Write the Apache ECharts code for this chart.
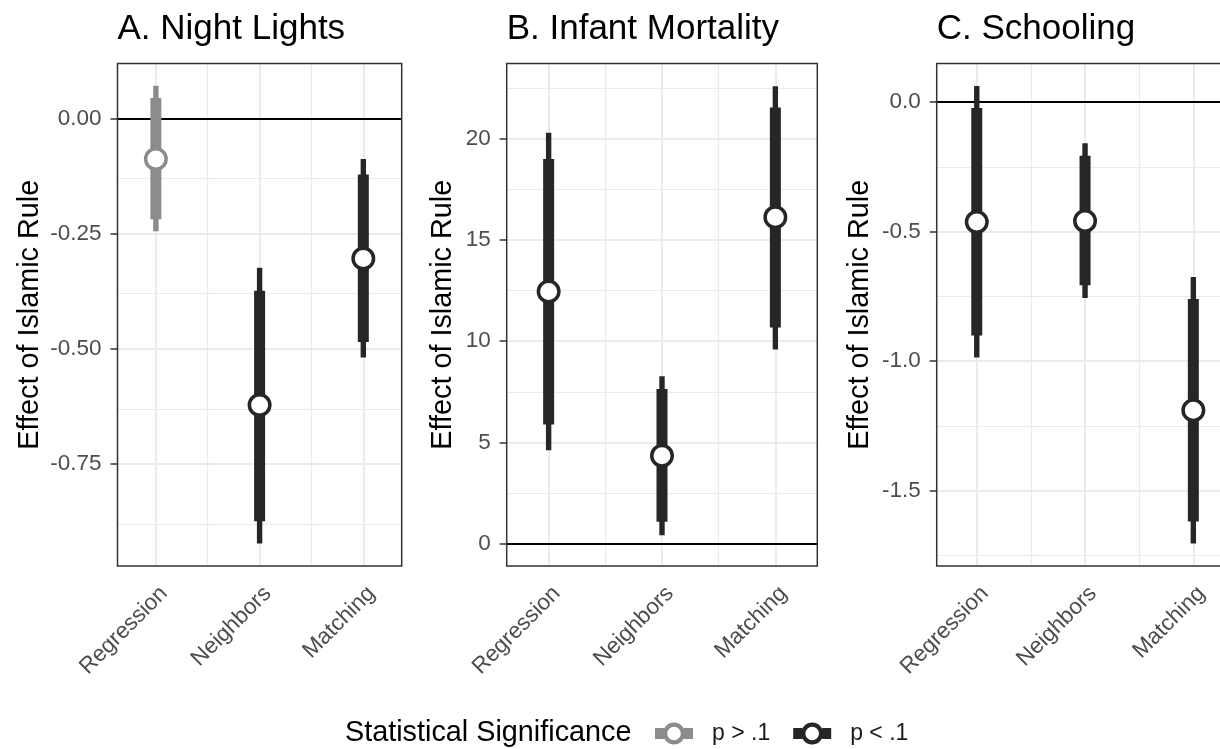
<!DOCTYPE html>
<html>
<head>
<meta charset="utf-8">
<title>Effect of Islamic Rule</title>
<script src="https://cdn.jsdelivr.net/npm/echarts@6/dist/echarts.min.js"></script>
<style>
  html, body { margin: 0; padding: 0; background: #fff; }
  #chart { width: 1220px; height: 749px; }
</style>
</head>
<body>
<div id="chart"></div>
<script>
var methods = ['Regression', 'Neighbors', 'Matching'];
var panelTitles = ['A. Night Lights', 'B. Infant Mortality', 'C. Schooling'];
var sigNames = ['p > .1', 'p < .1'];

// estimate, 90% interval (thick bar), 95% interval (thin bar), p < .1 ?
var lightsEst = [-0.088, -0.622, -0.304];
var lightsLo90 = [-0.219, -0.874, -0.485];
var lightsHi90 = [0.044, -0.374, -0.122];
var lightsLo95 = [-0.245, -0.922, -0.519];
var lightsHi95 = [0.071, -0.324, -0.088];
var lightsSig = [0, 1, 1];

var mortalityEst = [12.45, 4.34, 16.12];
var mortalityLo90 = [5.88, 1.08, 10.68];
var mortalityHi90 = [19.0, 7.64, 21.54];
var mortalityLo95 = [4.61, 0.41, 9.59];
var mortalityHi95 = [20.3, 8.26, 22.6];
var mortalitySig = [1, 1, 1];

var schoolingEst = [-0.463, -0.459, -1.19];
var schoolingLo90 = [-0.901, -0.707, -1.619];
var schoolingHi90 = [-0.023, -0.207, -0.76];
var schoolingLo95 = [-0.986, -0.756, -1.704];
var schoolingHi95 = [0.062, -0.159, -0.675];
var schoolingSig = [1, 1, 1];

// tick labels and grid lines
var lightsTicks = [-0.75, -0.5, -0.25, 0];
var lightsMinor = [-0.875, -0.625, -0.375, -0.125];
var mortalityTicks = [0, 5, 10, 15, 20];
var mortalityMinor = [2.5, 7.5, 12.5, 17.5, 22.5];
var schoolingTicks = [-1.5, -1.0, -0.5, 0];
var schoolingMinor = [-1.75, -1.25, -0.75, -0.25];
var xTicks = [1, 2, 3];
var xMinor = [1.5, 2.5];

var DARK = '#262626';
var GREY = '#8c8c8c';
var FONT = "'Liberation Sans', Arial, sans-serif";
// legend key: thick bar with an open circle on it
var KEY_ICON = 'path://M0,5.5H9V16.5H0Z M29,5.5H38V16.5H29Z M8,11A11,11 0 1,1 30,11A11,11 0 1,1 8,11Z M12.2,11A6.8,6.8 0 1,0 25.8,11A6.8,6.8 0 1,0 12.2,11Z';

var panels = [
	{est: lightsEst, lo90: lightsLo90, hi90: lightsHi90, lo95: lightsLo95, hi95: lightsHi95, sig: lightsSig,
	 ticks: lightsTicks, minor: lightsMinor, digits: 2, yMin: -0.971, yMax: 0.119,
	 left: 117.5, width: 284.2, nameGap: 73},
	{est: mortalityEst, lo90: mortalityLo90, hi90: mortalityHi90, lo95: mortalityLo95, hi95: mortalityHi95, sig: mortalitySig,
	 ticks: mortalityTicks, minor: mortalityMinor, digits: 0, yMin: -1.11, yMax: 23.72,
	 left: 506.7, width: 310.6, nameGap: 49},
	{est: schoolingEst, lo90: schoolingLo90, hi90: schoolingHi90, lo95: schoolingLo95, hi95: schoolingHi95, sig: schoolingSig,
	 ticks: schoolingTicks, minor: schoolingMinor, digits: 1, yMin: -1.791, yMax: 0.149,
	 left: 936.7, width: 296.7, nameGap: 62}
];

function renderBars(params, api) {
	var x = api.value(0);
	var a95 = api.coord([x, api.value(1)]);
	var b95 = api.coord([x, api.value(2)]);
	var a90 = api.coord([x, api.value(3)]);
	var b90 = api.coord([x, api.value(4)]);
	var color = api.value(5) ? DARK : GREY;
	return {
		type: 'group',
		children: [{
			type: 'rect',
			shape: {x: a95[0] - 2.7, y: b95[1], width: 5.4, height: a95[1] - b95[1]},
			style: {fill: color}
		}, {
			type: 'rect',
			shape: {x: a90[0] - 5.5, y: b90[1], width: 11, height: a90[1] - b90[1]},
			style: {fill: color}
		}]
	};
}

var grids = [], xAxes = [], yAxes = [], series = [], titles = [];

panels.forEach(function (p, i) {
	grids.push({
		left: p.left,
		top: 63.5,
		right: 1220 - p.left - p.width,
		bottom: 183,
		show: true,
		z: 3,
		backgroundColor: 'transparent',
		borderColor: '#333333',
		borderWidth: 1.5,
		containLabel: false,
		outerBoundsMode: 'none'
	});

	xAxes.push({
		type: 'value',
		gridIndex: i,
		min: 0.63,
		max: 3.37,
		splitLine: {show: false},
		axisLine: {show: false},
		axisTick: {show: true, customValues: xTicks, length: 7, lineStyle: {color: '#333333', width: 1.5}},
		axisLabel: {
			customValues: xTicks,
			formatter: function (v) { return methods[Math.round(v) - 1]; },
			rotate: 45,
			align: 'right',
			verticalAlign: 'top',
			margin: 16,
			fontSize: 22.5,
			fontFamily: FONT,
			color: '#4d4d4d'
		}
	});

	yAxes.push({
		type: 'value',
		gridIndex: i,
		min: p.yMin,
		max: p.yMax,
		name: 'Effect of Islamic Rule',
		nameLocation: 'middle',
		nameGap: p.nameGap,
		nameTextStyle: {fontSize: 28.8, fontFamily: FONT, color: '#000'},
		splitLine: {show: false},
		axisLine: {show: false},
		axisTick: {show: true, customValues: p.ticks, length: 7, lineStyle: {color: '#333333', width: 1.5}},
		axisLabel: {
			customValues: p.ticks,
			formatter: (function (d) { return function (v) { return v.toFixed(d); }; })(p.digits),
			margin: 16,
			fontSize: 22.5,
			fontFamily: FONT,
			color: '#4d4d4d'
		}
	});

	var lines = [];
	p.minor.forEach(function (v) { lines.push({yAxis: v, lineStyle: {width: 1.2}}); });
	xMinor.forEach(function (v) { lines.push({xAxis: v, lineStyle: {width: 1.2}}); });
	p.ticks.forEach(function (v) { lines.push({yAxis: v, lineStyle: {width: 2}}); });
	xTicks.forEach(function (v) { lines.push({xAxis: v, lineStyle: {width: 2}}); });
	lines.push({yAxis: 0, lineStyle: {color: '#000', width: 2}});

	var rows = p.est.map(function (e, k) {
		return [k + 1, p.lo95[k], p.hi95[k], p.lo90[k], p.hi90[k], p.sig[k]];
	});

	series.push({
		type: 'custom',
		name: 'bars' + i,
		xAxisIndex: i,
		yAxisIndex: i,
		renderItem: renderBars,
		encode: {x: 0, y: [1, 2]},
		data: rows,
		silent: true,
		markLine: {
			silent: true,
			z: 1,
			symbol: ['none', 'none'],
			label: {show: false},
			lineStyle: {color: '#ebebeb', type: 'solid'},
			emphasis: {disabled: true},
			data: lines
		}
	});

	[0, 1].forEach(function (s) {
		var pts = [];
		p.est.forEach(function (e, k) { if (p.sig[k] === s) pts.push([k + 1, e]); });
		if (!pts.length) return;
		series.push({
			type: 'scatter',
			name: sigNames[s],
			xAxisIndex: i,
			yAxisIndex: i,
			symbol: 'circle',
			symbolSize: 20.5,
			silent: true,
			z: 4,
			emphasis: {disabled: true},
			itemStyle: {color: '#fff', opacity: 1, borderColor: s ? DARK : GREY, borderWidth: 3.5},
			data: pts
		});
	});

	titles.push({
		text: panelTitles[i],
		left: p.left,
		top: 12,
		padding: 0,
		textStyle: {fontSize: 35, lineHeight: 35, fontWeight: 'normal', fontFamily: FONT, color: '#000'}
	});
});

titles.push({
	text: 'Statistical Significance',
	left: 345,
	top: 719,
	padding: 0,
	textStyle: {fontSize: 28.8, lineHeight: 29, fontWeight: 'normal', fontFamily: FONT, color: '#000'}
});

var chart = echarts.init(document.getElementById('chart'));
chart.setOption({
	animation: false,
	backgroundColor: '#fff',
	title: titles,
	grid: grids,
	xAxis: xAxes,
	yAxis: yAxes,
	legend: {
		left: 655,
		top: 722,
		padding: 0,
		itemWidth: 38,
		itemHeight: 22,
		itemGap: 23,
		selectedMode: false,
		textStyle: {fontSize: 23, fontFamily: FONT, color: '#1a1a1a', padding: [0, 0, 0, 14]},
		data: [
			{name: sigNames[0], icon: KEY_ICON, itemStyle: {color: GREY, opacity: 1, borderWidth: 0}},
			{name: sigNames[1], icon: KEY_ICON, itemStyle: {color: DARK, opacity: 1, borderWidth: 0}}
		]
	},
	series: series
});
</script>
</body>
</html>
